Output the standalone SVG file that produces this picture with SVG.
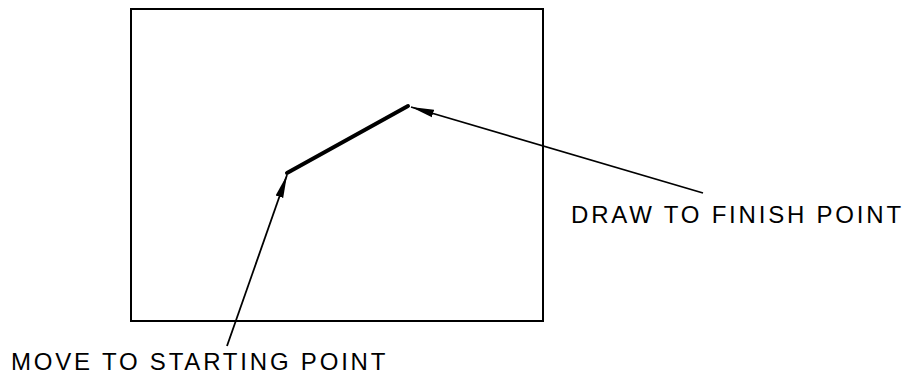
<svg xmlns="http://www.w3.org/2000/svg" width="911" height="375" viewBox="0 0 911 375">
<style>
.frame{fill:none;stroke:#000;stroke-width:2}
.stroke{fill:none;stroke:#000;stroke-width:4;stroke-linecap:round}
.conn{fill:none;stroke:#000;stroke-width:1.8}
.lbl{font-family:"Liberation Sans",Arial,sans-serif;font-size:24px;fill:#000;letter-spacing:2.8px}
</style>
<defs>
<marker id="ah" markerUnits="userSpaceOnUse" markerWidth="24" markerHeight="10" viewBox="0 0 24 10" refX="23" refY="5" orient="auto">
<path d="M0,1 L23,5 L0,9 Z" fill="#000"/>
</marker>
</defs>
<rect width="911" height="375" fill="#fff"/>
<g id="screen">
<rect class="frame" x="131" y="9" width="412" height="312"/>
</g>
<g id="drawn-line">
<line class="stroke" x1="287" y1="173" x2="408" y2="106"/>
</g>
<g id="label-draw">
<text class="lbl" x="571" y="223">DRAW TO FINISH POINT</text>
</g>
<g id="label-move">
<text class="lbl" x="11" y="370">MOVE TO STARTING POINT</text>
</g>
<g id="connectors">
<line class="conn" x1="703" y1="193" x2="411" y2="107" marker-end="url(#ah)"/>
<line class="conn" x1="227" y1="346" x2="287" y2="175" marker-end="url(#ah)"/>
</g>
</svg>
